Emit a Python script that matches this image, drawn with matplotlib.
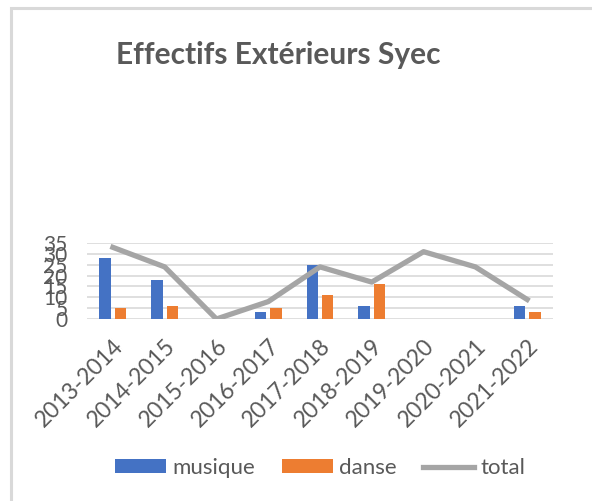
import matplotlib

matplotlib.use("Agg")

import matplotlib.pyplot as plt
import numpy as np
from matplotlib.patches import Rectangle

plt.rcParams["font.family"] = ["Lato", "DejaVu Sans"]

years = [
    "2013-2014", "2014-2015", "2015-2016", "2016-2017", "2017-2018",
    "2018-2019", "2019-2020", "2020-2021", "2021-2022",
]
musique = [28, 18, 0, 3, 25, 6, 0, 0, 6]
danse = [5, 6, 0, 5, 11, 16, 0, 0, 3]
total = [33, 24, 0, 8, 24, 17, 31, 24, 9]
y_ticks = [0, 5, 10, 15, 20, 25, 30, 35]

text_color = "#595959"
blue = "#4472c4"
orange = "#ed7d31"
grey = "#a5a5a5"

fig = plt.figure(figsize=(5.92, 5.01), dpi=100)
border = Rectangle((11 / 592, -0.1), 1.2, 1 - 8 / 501 + 0.1,
                   transform=fig.transFigure, facecolor="white",
                   edgecolor="#d9d9d9", linewidth=2.2, zorder=-5)
fig.patches.append(border)
ax = fig.add_axes([87 / 592, 182 / 501, 466 / 592, 76 / 501])

x = np.arange(len(years))
width = 0.22
bars_m = ax.bar(x - 0.15, musique, width, color=blue, label="musique", zorder=2)
bars_d = ax.bar(x + 0.15, danse, width, color=orange, label="danse", zorder=2)
(line_t,) = ax.plot(x, total, color=grey, linewidth=3.8, label="total", zorder=3)

ax.set_xlim(-0.5, len(years) - 0.5)
ax.set_ylim(0, 35)
ax.set_yticks(y_ticks)
ax.set_yticklabels([str(v) for v in y_ticks], fontsize=15, color=text_color)
ax.set_xticks(x)
ax.set_xticklabels(years, rotation=45, ha="right", va="top",
                   rotation_mode="anchor", fontsize=16.5, color=text_color)
ax.tick_params(length=0)
ax.tick_params(axis="x", pad=12)
ax.tick_params(axis="y", pad=14)
ax.grid(axis="y", color="#d9d9d9", linewidth=1.2, zorder=0)
ax.set_axisbelow(True)
for spine in ax.spines.values():
    spine.set_visible(False)
ax.set_facecolor("none")

fig.text(278 / 592, 1 - 55 / 501, "Effectifs Extérieurs Syec", ha="center",
         va="center", fontsize=21.5, fontweight="bold", color=text_color)

fig.legend([bars_m, bars_d, line_t], ["musique", "danse", "total"],
           loc="center", bbox_to_anchor=(320 / 592, 1 - 468 / 501), ncol=3,
           frameon=False, fontsize=16, labelcolor=text_color,
           handlelength=2.3, handleheight=0.6, columnspacing=1.2,
           handletextpad=0.27)

fig.savefig("out.png", dpi=100)
